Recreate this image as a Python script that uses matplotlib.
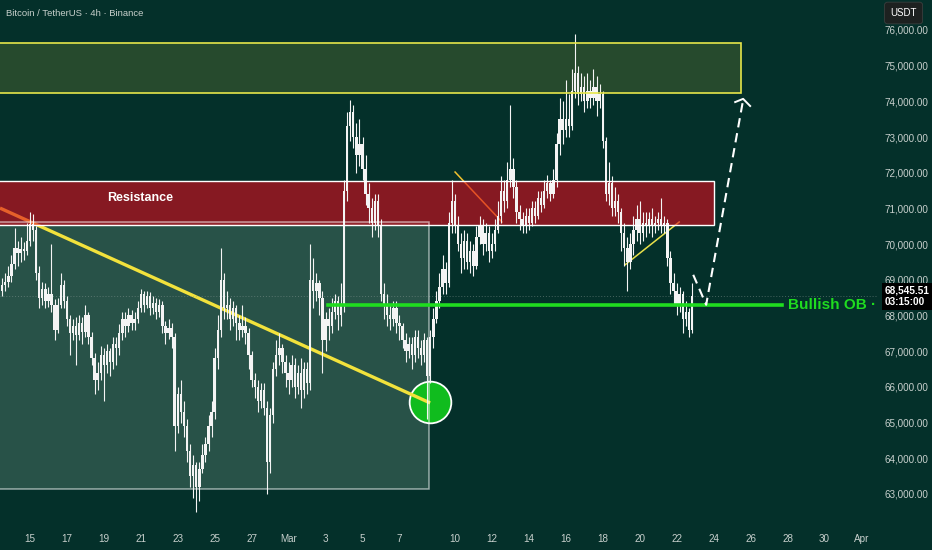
import matplotlib
matplotlib.use('Agg')
import matplotlib.pyplot as plt
import matplotlib.transforms as mtransforms
from matplotlib.patches import Rectangle
from matplotlib import font_manager
import numpy as np

# police étroite si dispo
noms = {f.name for f in font_manager.fontManager.ttflist}
police = 'Liberation Sans Narrow' if 'Liberation Sans Narrow' in noms else 'Liberation Sans'
plt.rcParams['font.family'] = [police, 'DejaVu Sans']

fond = '#04302a'
blanc = '#f4f4f4'
vert = '#1fdc1f'

# ------------------------ données (prix en milliers d'USDT, bougies 4h)
# temps en jours depuis le 15 fév.
debut = -1.5
premier_open = 68.70
closes = [
    68.85, 68.95, 69.10, 69.45, 69.90, 69.75, 69.85, 69.80, 70.10, 70.55,
    70.40, 69.20, 68.50, 68.75, 68.40, 68.60, 68.30, 67.60, 68.30, 68.85,
    68.40, 67.90, 67.50, 67.70, 67.45, 67.80, 67.55, 68.00, 67.40, 66.80,
    66.20, 66.40, 66.90, 66.60, 67.00, 66.70, 67.20, 67.10, 67.50, 67.90,
    67.70, 68.00, 67.80, 67.90, 68.20, 68.60, 68.30, 68.55, 68.20, 68.35,
    68.10, 68.30, 67.70, 67.50, 67.65, 67.40, 64.90, 65.80, 65.30, 64.90,
    64.20, 63.50, 63.80, 63.20, 63.70, 64.10, 64.40, 64.90, 65.30, 66.80,
    67.60, 69.00, 68.20, 68.30, 67.90, 68.20, 67.80, 67.60, 67.70, 67.50,
    66.90, 66.20, 66.00, 65.60, 65.90, 65.40, 63.90, 65.20, 66.50, 66.90,
    67.10, 66.70, 66.40, 66.20, 66.60, 66.00, 66.40, 65.90, 66.50, 66.10,
    69.00, 68.70, 68.90, 68.50, 67.30, 67.90, 67.70, 68.10, 68.40, 68.00,
    68.30, 71.50, 73.30, 73.70, 73.00, 72.50, 72.80, 72.10, 71.40, 71.00,
    70.60, 71.20, 70.50, 68.60, 68.30, 68.00, 67.90, 68.20, 67.80, 67.70,
    67.30, 67.00, 67.20, 66.90, 67.40, 67.10, 66.90, 67.30, 66.30, 67.40,
    67.90, 68.40, 68.80, 69.30, 68.90, 70.60, 71.20, 70.50, 70.00, 69.60,
    70.10, 69.50, 69.80, 69.40, 70.20, 70.50, 70.00, 70.30, 69.80, 70.00,
    70.40, 70.80, 71.50, 71.20, 71.80, 72.10, 71.60, 70.90, 70.70, 70.50,
    70.80, 70.60, 71.00, 70.80, 71.30, 71.10, 71.50, 71.70, 71.40, 71.80,
    72.80, 73.50, 73.20, 73.50, 73.30, 74.30, 74.80, 74.20, 74.40, 74.00,
    74.30, 74.10, 74.40, 74.00, 74.20, 72.90, 71.40, 71.70, 71.00, 71.20,
    70.90, 70.30, 69.90, 69.50, 70.00, 70.40, 70.70, 70.30, 70.60, 70.50,
    70.70, 70.50, 70.60, 70.70, 70.50, 70.60, 69.60, 68.90, 68.70, 68.30,
    68.60, 67.90, 68.10, 67.60, 68.54551,
]
highs = [
    69.05, 69.20, 69.40, 69.70, 70.45, 70.10, 70.20, 70.05, 70.60, 70.90,
    70.85, 70.50, 69.40, 68.95, 68.90, 68.80, 70.00, 68.45, 68.50, 69.20,
    69.00, 68.55, 68.00, 67.90, 67.95, 68.00, 67.95, 68.30, 68.10, 67.55,
    66.95, 66.70, 67.15, 67.10, 67.20, 67.10, 67.40, 67.40, 67.75, 68.10,
    68.10, 68.20, 68.15, 68.10, 68.40, 68.75, 68.70, 68.70, 68.65, 68.55,
    68.50, 68.45, 68.40, 67.85, 67.90, 67.80, 67.50, 66.00, 66.20, 65.60,
    65.10, 64.40, 64.10, 63.90, 63.90, 64.40, 64.60, 65.20, 65.60, 67.10,
    68.00, 69.90, 69.20, 68.70, 68.50, 68.40, 68.30, 68.00, 68.30, 67.95,
    67.65, 67.00, 66.40, 66.20, 66.10, 66.10, 65.60, 65.40, 66.70, 67.30,
    67.50, 67.20, 66.90, 66.70, 66.90, 66.80, 66.60, 66.80, 66.70, 66.70,
    70.00, 69.60, 69.20, 69.00, 68.70, 68.10, 68.20, 68.50, 68.60, 68.55,
    68.90, 71.80, 73.70, 74.05, 73.90, 73.40, 73.50, 73.00, 72.50, 71.70,
    71.30, 71.40, 71.40, 70.70, 68.90, 68.60, 68.30, 68.40, 68.40, 68.00,
    67.80, 67.50, 67.40, 67.40, 67.60, 67.60, 67.30, 67.50, 67.40, 67.60,
    68.20, 68.70, 69.20, 69.70, 69.50, 70.90, 71.80, 71.40, 70.80, 70.30,
    70.40, 70.30, 70.10, 70.00, 70.50, 70.80, 70.70, 70.60, 70.50, 70.30,
    70.70, 71.20, 71.90, 71.80, 72.30, 73.90, 72.40, 71.80, 71.10, 70.90,
    71.00, 71.00, 71.20, 71.20, 71.50, 71.50, 71.80, 71.95, 71.80, 72.10,
    73.10, 74.10, 74.00, 74.60, 74.20, 74.90, 75.90, 75.00, 74.80, 74.70,
    74.80, 74.60, 74.90, 74.70, 74.50, 74.30, 73.00, 72.30, 71.90, 71.60,
    71.40, 71.00, 70.60, 70.20, 70.30, 70.80, 71.10, 71.20, 70.90, 70.90,
    70.90, 71.00, 70.80, 70.90, 71.30, 70.80, 70.70, 69.80, 69.20, 68.90,
    68.80, 68.70, 68.40, 68.20, 68.90,
]
lows = [
    68.55, 68.70, 68.80, 68.95, 69.30, 69.40, 69.50, 69.55, 69.70, 69.95,
    70.10, 69.00, 68.20, 68.30, 68.20, 68.25, 68.10, 67.30, 67.50, 68.20,
    68.20, 67.70, 66.90, 67.30, 66.60, 67.30, 67.20, 67.40, 67.20, 66.60,
    65.80, 65.90, 66.20, 65.60, 66.40, 66.30, 66.50, 66.60, 66.90, 67.30,
    67.40, 67.55, 67.60, 67.60, 67.80, 68.10, 68.10, 68.20, 68.00, 68.05,
    67.90, 67.95, 67.50, 67.20, 67.35, 67.10, 64.20, 64.70, 65.00, 64.60,
    63.90, 63.20, 62.90, 62.50, 62.80, 63.60, 63.90, 64.20, 64.60, 65.10,
    66.50, 67.40, 67.90, 67.90, 67.60, 67.70, 67.30, 67.30, 67.40, 67.20,
    66.50, 66.00, 65.70, 65.30, 65.40, 65.20, 63.00, 63.60, 65.00, 66.30,
    66.60, 66.40, 66.00, 65.80, 66.00, 65.70, 65.80, 65.40, 65.70, 65.80,
    65.90, 68.20, 68.40, 68.00, 66.40, 67.00, 67.30, 67.50, 67.90, 67.60,
    67.70, 68.10, 71.20, 72.90, 72.70, 72.00, 72.20, 71.80, 71.10, 70.60,
    70.20, 70.40, 70.20, 68.40, 67.90, 67.70, 67.60, 67.70, 67.50, 67.30,
    67.10, 66.70, 66.80, 66.50, 66.70, 66.80, 66.60, 66.70, 65.10, 66.10,
    67.10, 67.80, 68.20, 68.60, 68.60, 68.80, 70.30, 70.30, 69.80, 69.20,
    69.30, 69.30, 69.20, 69.10, 69.30, 70.00, 69.70, 69.80, 69.50, 69.60,
    69.80, 70.30, 70.60, 70.90, 71.00, 71.60, 71.30, 70.60, 70.40, 70.30,
    70.30, 70.40, 70.50, 70.60, 70.70, 70.90, 71.00, 71.30, 71.20, 71.30,
    71.60, 72.50, 72.80, 73.00, 73.00, 73.20, 74.10, 73.90, 74.00, 73.70,
    73.80, 73.80, 73.90, 73.60, 73.80, 72.70, 71.20, 71.10, 70.80, 70.80,
    70.60, 69.80, 69.40, 68.70, 69.30, 69.70, 70.10, 70.00, 70.10, 70.20,
    70.30, 70.20, 70.30, 70.40, 70.30, 70.30, 69.40, 68.60, 68.30, 68.00,
    68.10, 67.50, 67.70, 67.40, 67.50,
]

# zones : (jour début, jour fin, bas, haut)
zone_objectif = (-3.0, 38.5, 74.235, 75.636)
zone_resistance = (-3.0, 37.0, 70.538, 71.770)
zone_range = (-3.0, 21.6, 63.143, 70.622)

# tracés
tendance_x = [-1.62, 21.66]
tendance_y = [71.01, 65.55]
petite1_x = [23.01, 25.55]
petite1_y = [72.02, 70.62]
petite2_x = [32.21, 35.14]
petite2_y = [69.42, 70.62]
cercle_x, cercle_y = 21.66, 65.58
ob_x = [16.13, 40.7]
ob_prix = 68.30
fleche_x = [35.9, 36.6, 38.6]
fleche_y = [69.14, 68.30, 74.04]
pointe_x = [38.17, 38.6, 38.98]
pointe_y = [73.98, 74.07, 73.87]

tick_jours = [0, 2, 4, 6, 8, 10, 12, 14, 16, 18, 20, 23, 25, 27, 29, 31, 33,
              35, 37, 39, 41, 43, 45]
tick_textes = ['15', '17', '19', '21', '23', '25', '27', 'Mar', '3', '5', '7',
               '10', '12', '14', '16', '18', '20', '22', '24', '26', '28', '30',
               'Apr']
prix_ticks = list(range(63, 77))

# ------------------------ figure
fig = plt.figure(figsize=(9.32, 5.5), dpi=100, facecolor=fond)
ax = fig.add_axes([0, 30/550, 878/932, 520/550])
ax.set_facecolor(fond)
ax.set_xlim(-1.62, 45.9)
ax.set_ylim(62.27, 76.84)

c = np.array(closes)
o = np.array([premier_open] + closes[:-1])
t = debut + np.arange(len(c)) / 6

# zones (remplissage)
x0, x1, b, h = zone_objectif
ax.add_patch(Rectangle((x0, b), x1 - x0, h - b, fc='#264a2d', ec='none', zorder=1))
ax.add_patch(Rectangle((x0, b), x1 - x0, h - b, fc='none', ec='#e6e64a', lw=1.2, zorder=4))
x0, x1, b, h = zone_range
ax.add_patch(Rectangle((x0, b), x1 - x0, h - b, fc='#285248', ec='none', zorder=1))
ax.add_patch(Rectangle((x0, b), x1 - x0, h - b, fc='none', ec=(1, 1, 1, 0.55), lw=1.1, zorder=4))
x0, x1, b, h = zone_resistance
ax.add_patch(Rectangle((x0, b), x1 - x0, h - b, fc=(222/255, 10/255, 30/255, 0.6), ec='none', zorder=2))
ax.add_patch(Rectangle((x0, b), x1 - x0, h - b, fc='none', ec='white', lw=1.0, zorder=4))
ax.text(5.96, 71.29, 'Resistance', color='white', fontsize=9, fontweight='bold',
        ha='center', va='center', zorder=5)

# cercle + oblique jaune
ax.scatter([cercle_x], [cercle_y], s=900, c='#10bc1e', edgecolors='white',
           linewidths=1.3, zorder=1.4)
ax.plot(tendance_x, tendance_y, c='#f2e23c', lw=2.4, solid_capstyle='butt', zorder=1.5)
ax.plot(petite1_x, petite1_y, c='#f2c12e', lw=1.1, zorder=1.6)
ax.plot(petite2_x, petite2_y, c='#e8e04a', lw=1.1, zorder=1.6)

# bougies
ax.vlines(t, lows, highs, color=blanc, lw=0.8, zorder=3)
ax.bar(t, np.maximum(np.abs(c - o), 0.03), bottom=np.minimum(o, c), width=0.13,
       color=blanc, linewidth=0, zorder=3)

# prix courant
dernier_prix = closes[-1]
ax.axhline(dernier_prix, color='#8a9a96', lw=0.7, ls=(0, (1, 2)), alpha=0.5, zorder=2.6)

# bullish OB
ax.plot(ob_x, [ob_prix, ob_prix], c=vert, lw=2.6, zorder=4)
ax.text(ob_x[1] + 0.35, ob_prix, 'Bullish OB ·', color=vert, fontsize=11,
        fontweight='bold', va='center', ha='left', zorder=5)

# projection
ax.plot(fleche_x, fleche_y, c='white', lw=1.5, ls=(0, (4.5, 2.8)), zorder=4)
ax.plot(pointe_x, pointe_y, c='white', lw=1.4, zorder=4)

# axes
ax.set_xticks(tick_jours, tick_textes)
ax.yaxis.tick_right()
ax.set_yticks(prix_ticks, ['{:,.2f}'.format(v * 1000) for v in prix_ticks])
ax.tick_params(axis='both', length=0, colors='#c8d0cd', labelsize=7.1)
ax.tick_params(axis='y', pad=5)
ax.tick_params(axis='x', pad=10)
for s in ax.spines.values():
    s.set_visible(False)

trans = mtransforms.blended_transform_factory(ax.transAxes, ax.transData)
ax.annotate('{:,.2f}\n03:15:00'.format(dernier_prix * 1000), xy=(1.0, dernier_prix),
            xycoords=trans, xytext=(5, 7.5), textcoords='offset points',
            va='top', ha='left', fontsize=7.2, color='white', fontweight='bold',
            linespacing=1.2, zorder=10, annotation_clip=False,
            bbox=dict(boxstyle='square,pad=0.3', fc='black', ec='none'))

fig.text(0.9695, 1 - 13/550, 'USDT', ha='center', va='center', fontsize=7,
         color='white',
         bbox=dict(boxstyle='round,pad=0.6,rounding_size=0.3', fc='#1d2120',
                   ec='#3a3f3e', lw=0.6))
fig.text(6/932, 1 - 13/550, 'Bitcoin / TetherUS · 4h · Binance', fontsize=6.8,
         color='#c8d0cc', va='center', ha='left')

fig.savefig('out.png', dpi=100, facecolor=fond)
